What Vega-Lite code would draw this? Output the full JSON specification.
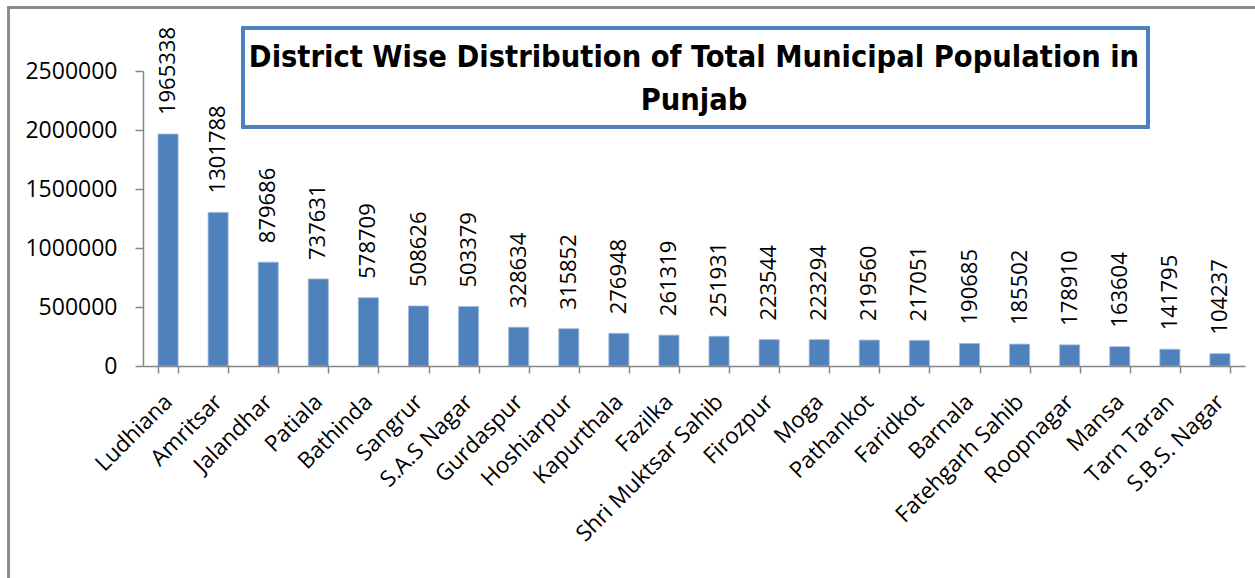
{
  "$schema": "https://vega.github.io/schema/vega-lite/v6.json",
  "width": 1102,
  "height": 295,
  "autosize": {"type": "none"},
  "padding": {"left": 143, "top": 71, "right": 10, "bottom": 212},
  "background": "white",
  "title": {
    "text": ["District Wise Distribution of Total Municipal Population in", "Punjab"],
    "font": "DejaVu Sans Condensed, sans-serif",
    "fontSize": 30.5,
    "fontWeight": "bold",
    "color": "black",
    "frame": "group",
    "anchor": "middle",
    "offset": -110,
    "lineHeight": 43
  },
  "data": {
    "values": [
      {"district": "Ludhiana", "population": 1965338},
      {"district": "Amritsar", "population": 1301788},
      {"district": "Jalandhar", "population": 879686},
      {"district": "Patiala", "population": 737631},
      {"district": "Bathinda", "population": 578709},
      {"district": "Sangrur", "population": 508626},
      {"district": "S.A.S Nagar", "population": 503379},
      {"district": "Gurdaspur", "population": 328634},
      {"district": "Hoshiarpur", "population": 315852},
      {"district": "Kapurthala", "population": 276948},
      {"district": "Fazilka", "population": 261319},
      {"district": "Shri Muktsar Sahib", "population": 251931},
      {"district": "Firozpur", "population": 223544},
      {"district": "Moga", "population": 223294},
      {"district": "Pathankot", "population": 219560},
      {"district": "Faridkot", "population": 217051},
      {"district": "Barnala", "population": 190685},
      {"district": "Fatehgarh Sahib", "population": 185502},
      {"district": "Roopnagar", "population": 178910},
      {"district": "Mansa", "population": 163604},
      {"district": "Tarn Taran", "population": 141795},
      {"district": "S.B.S. Nagar", "population": 104237}
    ]
  },
  "encoding": {
    "x": {
      "field": "district",
      "type": "nominal",
      "sort": null,
      "title": null,
      "scale": {
        "domain": ["Ludhiana", "Amritsar", "Jalandhar", "Patiala", "Bathinda", "Sangrur", "S.A.S Nagar", "Gurdaspur", "Hoshiarpur", "Kapurthala", "Fazilka", "Shri Muktsar Sahib", "Firozpur", "Moga", "Pathankot", "Faridkot", "Barnala", "Fatehgarh Sahib", "Roopnagar", "Mansa", "Tarn Taran", "S.B.S. Nagar"],
        "paddingInner": 0.6,
        "paddingOuter": 0.3
      },
      "axis": {
        "labelAngle": -45,
        "labelAlign": "right",
        "labelBaseline": "middle",
        "labelFont": "Open Sans",
        "labelFontSize": 22.5,
        "labelColor": "black",
        "labelPadding": 25,
        "labelOverlap": false,
        "labelLimit": 400,
        "tickBand": "extent",
        "tickSize": 7,
        "tickColor": "#868686",
        "domainColor": "#868686",
        "domainWidth": 1.5,
        "tickWidth": 1.5,
        "grid": false
      }
    },
    "y": {
      "field": "population",
      "type": "quantitative",
      "title": null,
      "scale": {"domain": [0, 2500000], "nice": false},
      "axis": {
        "values": [0, 500000, 1000000, 1500000, 2000000, 2500000],
        "format": "d",
        "labelFont": "Open Sans",
        "labelFontSize": 23,
        "labelColor": "black",
        "labelPadding": 18,
        "tickSize": 8,
        "tickColor": "#868686",
        "domainColor": "#868686",
        "domainWidth": 1.5,
        "tickWidth": 1.5,
        "grid": false
      }
    }
  },
  "layer": [
    {
      "mark": {"type": "rect", "fillOpacity": 0, "stroke": "#8C8C8C", "strokeWidth": 2},
      "encoding": {
        "x": {"datum": "Ludhiana", "bandPosition": -7.45},
        "x2": {"datum": "S.B.S. Nagar", "bandPosition": 6},
        "y": {"datum": 3040000},
        "y2": {"datum": -2000000}
      }
    },
    {
      "mark": {"type": "rect", "fillOpacity": 0, "stroke": "#4F81BD", "strokeWidth": 2.5},
      "encoding": {
        "x": {"datum": "Amritsar", "bandPosition": 1.74},
        "x2": {"datum": "Tarn Taran", "bandPosition": -0.59},
        "y": {"datum": 2865000},
        "y2": {"datum": 2025000}
      }
    },
    {
      "mark": {"type": "bar", "color": "#4F81BD", "stroke": "#9DB7DC", "strokeWidth": 0.8}
    },
    {
      "mark": {
        "type": "text",
        "angle": 270,
        "align": "left",
        "baseline": "middle",
        "dx": 19,
        "font": "Open Sans",
        "fontSize": 22,
        "color": "black"
      },
      "encoding": {
        "text": {"field": "population", "type": "quantitative", "format": "d"}
      }
    }
  ],
  "config": {"view": {"stroke": null}}
}
